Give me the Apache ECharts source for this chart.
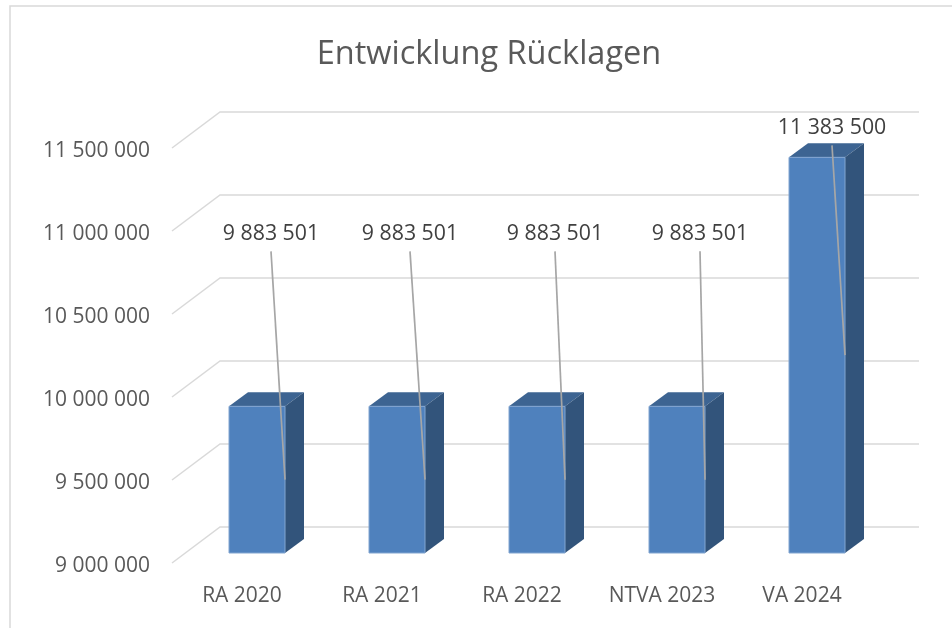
<!DOCTYPE html>
<html>
<head>
<meta charset="utf-8">
<style>
  html, body { margin: 0; padding: 0; background: #fff; }
  #main { width: 952px; height: 628px; }
</style>
<script src="https://cdn.jsdelivr.net/npm/echarts@6/dist/echarts.min.js"></script>
</head>
<body>
<div id="main"></div>
<script>
const categories = ['RA 2020', 'RA 2021', 'RA 2022', 'NTVA 2023', 'VA 2024']
const values = [9883501, 9883501, 9883501, 9883501, 11383500]
const axisTicks = [9000000, 9500000, 10000000, 10500000, 11000000, 11500000]

// where Excel left the dragged data labels, relative to each bar
const labelShiftX = [-14, -15, -10, -5, -13]
const labelRise = [155, 155, 155, 155, 12]

const fontFamily = '"Open Sans", sans-serif'
const fmt = v => String(v).replace(/\B(?=(\d{3})+$)/g, ' ')

// fake 3D: back wall sits up and right of the front plane
const wallX = 48
const wallY = -36
const barShiftX = 15
const barShiftY = -10
const depthX = 19
const depthY = -14

function renderWall (params, api) {
  const p = api.coord([0, api.value(0)])
  const left = params.coordSys.x
  const right = left + params.coordSys.width + wallX - 1
  return {
    type: 'polyline',
    shape: { points: [[left, p[1]], [left + wallX, p[1] + wallY], [right, p[1] + wallY]] },
    style: { fill: null, stroke: '#d9d9d9', lineWidth: 1.5 }
  }
}

function renderBar (params, api) {
  const base = api.coord([api.value(0), 9000000])
  const top = api.coord([api.value(0), api.value(1)])
  const w = api.size([1, 0])[0] * 0.4
  const x0 = base[0] + barShiftX - w / 2
  const x1 = x0 + w
  const y0 = top[1] + barShiftY
  const y1 = base[1] + barShiftY
  return {
    type: 'group',
    children: [
      {
        type: 'polygon',
        shape: { points: [[x0, y0], [x0 + depthX, y0 + depthY], [x1 + depthX, y0 + depthY], [x1, y0]] },
        style: { fill: '#3d6492' }
      },
      {
        type: 'polygon',
        shape: { points: [[x1, y0], [x1 + depthX, y0 + depthY], [x1 + depthX, y1 + depthY], [x1, y1]] },
        style: { fill: '#32547b' }
      },
      {
        type: 'rect',
        shape: { x: x0, y: y0, width: w, height: y1 - y0 },
        style: { fill: '#4f81bd', stroke: '#82a5d0', lineWidth: 1 }
      }
    ]
  }
}

function renderLabel (params, api) {
  const i = params.dataIndex
  const base = api.coord([api.value(0), 9000000])
  const top = api.coord([api.value(0), api.value(1)])
  const w = api.size([1, 0])[0] * 0.4
  const edge = base[0] + barShiftX + w / 2
  const y0 = top[1] + barShiftY
  const y1 = base[1] + barShiftY
  const lx = edge + labelShiftX[i]
  const ly = y0 - labelRise[i]
  return {
    type: 'group',
    children: [
      {
        type: 'line',
        shape: { x1: lx, y1: ly, x2: edge, y2: (y0 + y1) / 2 },
        style: { stroke: '#a6a6a6', lineWidth: 1.7 }
      },
      {
        type: 'text',
        style: {
          x: lx,
          y: ly - 17,
          text: fmt(api.value(1)),
          fill: '#404040',
          font: '21.3px ' + fontFamily,
          align: 'center',
          verticalAlign: 'middle'
        }
      }
    ]
  }
}

const chart = echarts.init(document.getElementById('main'), null, { renderer: 'canvas' })
chart.setOption({
  animation: false,
  backgroundColor: '#fff',
  textStyle: { fontFamily: fontFamily },
  title: {
    text: 'Entwicklung Rücklagen',
    left: 484,
    top: 33,
    textAlign: 'center',
    textStyle: { color: '#595959', fontSize: 32.5, fontWeight: 'normal', fontFamily: fontFamily }
  },
  grid: { left: 172, top: 148, width: 700, height: 415 },
  graphic: [
    {
      type: 'rect',
      silent: true,
      shape: { x: 10, y: 6, width: 1000, height: 700 },
      style: { fill: null, stroke: '#d9d9d9', lineWidth: 1.5 }
    }
  ],
  xAxis: {
    type: 'category',
    data: categories,
    axisLine: { show: false },
    axisTick: { show: false },
    axisLabel: { color: '#595959', fontSize: 21, margin: 23 }
  },
  yAxis: {
    type: 'value',
    min: 9000000,
    max: 11500000,
    interval: 500000,
    axisLine: { show: false },
    axisTick: { show: false },
    splitLine: { show: false },
    axisLabel: {
      margin: 22,
      formatter: v => '{tick|' + fmt(v) + '}',
      rich: { tick: { color: '#595959', fontSize: 21, padding: [7, 0, 0, 0] } }
    }
  },
  series: [
    {
      type: 'custom',
      name: 'wall',
      silent: true,
      z: 1,
      clip: false,
      renderItem: renderWall,
      encode: { y: 0 },
      data: axisTicks.map(t => [t])
    },
    {
      type: 'custom',
      name: 'Rücklagen',
      z: 2,
      clip: false,
      renderItem: renderBar,
      encode: { x: 0, y: 1 },
      data: values.map((v, i) => [i, v])
    },
    {
      type: 'custom',
      name: 'labels',
      silent: true,
      z: 3,
      clip: false,
      renderItem: renderLabel,
      encode: { x: 0, y: 1 },
      data: values.map((v, i) => [i, v])
    }
  ]
})
</script>
</body>
</html>
